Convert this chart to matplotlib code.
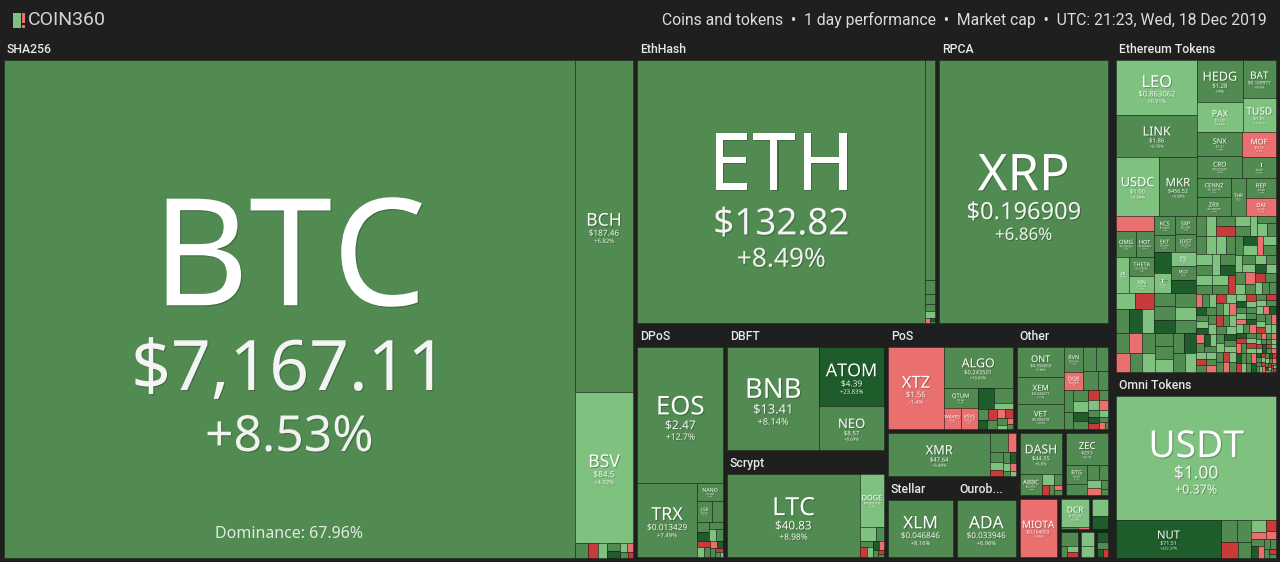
import matplotlib
matplotlib.use("Agg")
import matplotlib.pyplot as plt
from matplotlib.patches import Rectangle
import matplotlib.patheffects as pe

'''
COIN360 style treemap: coins and tokens, 1 day performance, sized by market cap.
Tile sizes are relative market caps read off the picture, colour is the 1 day change.
'''

# ---- data: (symbol, relative market cap, 1 day change %, price) ----
sha256_coins = [("BTC", 2928, 8.53, "$7,167.11"), ("BCH", 201, 6.82, "$187.46"),
                ("BSV", 91, 4.92, "$84.5")]
sha256_small_cap = [2.0, 1.6, 1.3, 1.1, 0.9, 0.7, 0.6, 0.5, 0.3]
sha256_small_chg = [7.2, -6.5, 3.1, 9.0, 25.0, 4.0, -2.0, 12.0, -8.0]
btc_dominance = 67.96

ethhash_coins = [("ETH", 831, 8.49, "$132.82"), ("ETC", 24.5, 7.9, "$4.05")]
ethhash_small_cap = [1.6, 1.1, 0.8, 0.7, 0.3, 0.2, 0.1]
ethhash_small_chg = [9.1, 6.2, 11.0, 2.4, -4.0, 24.0, 5.0]

rpca_coins = [("XRP", 488, 6.86, "$0.196909")]

dpos_coins = [("EOS", 132, 12.7, "$2.47"), ("TRX", 49.7, 7.49, "$0.013429"),
              ("NANO", 5.3, 9.6, "$0.588"), ("LSK", 3.7, 8.1, "$0.302")]
dpos_small_cap = [2.6, 1.5, 1.3, 1.1, 1.0, 1.0, 0.9, 0.8, 0.7, 0.6, 0.5, 0.5, 0.4, 0.3, 0.2]
dpos_small_chg = [7.3, 6.4, 24.6, 8.8, 3.2, 9.5, -7.0, 2.1, 10.3, -3.5, 26.0, 6.0, -12.0, 7.7, 4.4]

dbft_coins = [("BNB", 118, 8.14, "$13.41"), ("ATOM", 48.5, 23.83, "$4.39"),
              ("NEO", 35.5, 8.69, "$8.57")]

scrypt_coins = [("LTC", 143.4, 8.98, "$40.83"), ("DOGE", 16.8, 2.5, "$0.002108")]
scrypt_small_cap = [2.9, 1.5, 1.2, 1.0, 0.8, 0.7, 0.6, 0.5, 0.3, 0.3]
scrypt_small_chg = [3.3, 7.1, 6.2, -9.0, 2.8, 22.0, -3.1, 8.4, -6.0, 5.5]

pos_coins = [("XTZ", 60.6, -1.4, "$1.56"), ("ALGO", 37.7, 10.69, "$0.243501"),
             ("QTUM", 8.8, 7.2, "$1.66"), ("WAVES", 4.9, -2.5, "$0.69"),
             ("VSYS", 4.9, -3.8, "$0.0415")]
pos_small_cap = [4.5, 3.7, 1.6, 1.4, 1.3, 1.2, 1.2, 1.0, 0.9, 0.8, 0.6, 0.5, 0.4]
pos_small_chg = [28.0, 9.4, 3.0, 7.5, -6.0, 24.0, 8.2, -2.2, -9.5, 6.3, 3.9, -4.1, 11.0]

other_coins = [("ONT", 19.3, 7.88, "$0.556659"), ("XEM", 16.7, 7.7, "$0.032677"),
               ("VET", 16.1, 10.5, "$0.006278"), ("RVN", 6.1, 9.2, "$0.0185"),
               ("DGB", 4.5, -3.0, "$0.0058")]
other_small_cap = [4.0, 3.9, 3.8, 2.6, 2.4, 2.3, 2.2, 2.0, 1.8, 1.6, 1.5, 1.4, 1.3, 1.2,
                   1.1, 1.0, 0.9, 0.8, 0.7, 0.5, 0.3]
other_small_chg = [8.8, 6.5, 9.9, 7.1, 12.0, 6.0, 3.5, 8.0, 26.0, 7.4, -5.5, 2.0, 9.0, -2.4,
                   6.6, 30.0, -8.0, 4.2, 7.7, -3.3, 5.9]

cryptonight_coins = [("XMR", 48, 5.88, "$47.64")]
cryptonight_small_cap = [3.6, 1.7, 1.4, 1.1, 0.9, 0.8, 0.7, 0.6, 0.5, 0.4, 0.3]
cryptonight_small_chg = [7.0, -2.0, 9.3, 3.4, -7.5, 6.1, 22.0, 4.0, -3.0, 8.0, 2.2]

stellar_coins = [("XLM", 57, 8.16, "$0.046846")]
ouroboros_coins = [("ADA", 52, 6.96, "$0.033946")]

x11_coins = [("DASH", 19.9, 6.8, "$44.55"), ("ABBC", 5.4, 5.4, "$0.0797")]
x11_small_cap = [1.4, 1.0, 0.8, 0.6, 0.5, 0.4]
x11_small_chg = [3.0, 8.0, -6.0, 9.0, -2.0, 5.0]

equihash_coins = [("ZEC", 15.5, 6.1, "$29.5"), ("BTG", 4.6, 7.4, "$4.83"),
                  ("ZEN", 2.7, 6.9, "$4.96")]
equihash_small_cap = [2.0, 1.6, 1.3, 1.0, 0.8, 0.5]
equihash_small_chg = [7.0, 9.5, 3.1, -4.0, 8.3, 6.0]

tangle_coins = [("MIOTA", 25, -1.85, "$0.164053")]
blake256_coins = [("DCR", 10.5, 2.6, "$17.09")]
blake256_small_cap = [0.6, 0.4]
blake256_small_chg = [6.0, -3.0]
lyra_small_cap = [3.6, 2.7]
lyra_small_chg = [3.2, 26.0]
blake2b_small_cap = [3.2, 1.0, 1.0, 0.8]
blake2b_small_chg = [7.8, 8.6, 2.4, -7.0]
multi_small_cap = [2.5, 2.0]
multi_small_chg = [3.6, 1.9]
keccak_small_cap = [1.5, 1.2, 0.8, 0.6]
keccak_small_chg = [21.0, 6.0, 27.0, -5.0]

erc20_coins = [("LEO", 47.7, 0.91, "$0.863062"), ("LINK", 36.4, 6.76, "$1.86"),
               ("USDC", 27.3, 0.34, "$1.00"), ("MKR", 24.7, 6.58, "$456.52"),
               ("HEDG", 20.5, 9.0, "$1.28"), ("PAX", 14.6, 0.45, "$1.00"),
               ("BAT", 13.6, 8.6, "$0.169977"), ("TUSD", 12.2, 1.05, "$1.01"),
               ("SNX", 11.7, 7.3, "$1.21"), ("CRO", 10.7, 5.9, "$0.022667"),
               ("MOF", 9.3, -3.5, "$4.72"), ("HT", 7.4, 6.2, "$2.69"),
               ("CENNZ", 7.0, 8.5, "$0.120179"), ("ZRX", 7.0, 7.9, "$0.180249"),
               ("THR", 6.5, 6.5, "$0.3"), ("REP", 6.4, 5.7, "$9.48"),
               ("DAI", 6.0, -0.15, "$1.00"), ("OMG", 5.5, 7.2, "$0.509283"),
               ("HOT", 5.2, 6.6, "$0.000403"), ("ZB", 5.0, 3.1, "$0.2398"),
               ("THETA", 4.8, 8.0, "$0.079656"), ("XIN", 4.5, 2.2, "$121.05"),
               ("KCS", 4.3, 6.3, "$0.8806"), ("EKT", 4.1, 6.9, "$0.0591"),
               ("SXP", 3.9, 5.8, "$0.5486"), ("IOST", 3.9, 7.0, "$0.0028"),
               ("FTT", 3.7, 1.6, "$1.86"), ("ENJ", 3.7, 2.9, "$0.0649"),
               ("MCO", 3.5, 7.5, "$2.92")]
erc20_small_cap = [5.8, 3.8, 3.5, 3.3,
                   3.4, 3.3, 3.2, 3.2, 3.1, 3.1, 3.0, 3.0, 2.9, 2.9, 2.8, 2.8, 2.7, 2.7,
                   2.6, 2.6, 2.5, 2.5, 2.5, 2.4, 2.4, 2.4, 2.3, 2.2,
                   2.1, 2.1, 2.0, 2.0, 2.0, 1.9, 1.9, 1.9, 1.8, 1.8, 1.8, 1.7, 1.7, 1.7,
                   1.6, 1.6, 1.6, 1.5, 1.5, 1.5, 1.5, 1.4, 1.4, 1.4, 1.4, 1.3, 1.3, 1.3,
                   1.3, 1.2, 1.2, 1.2, 1.2, 1.2, 1.1, 1.1, 1.1, 1.1, 1.0, 1.0, 1.0, 1.0,
                   1.0, 1.0,
                   0.9, 0.9, 0.9, 0.9, 0.9, 0.9, 0.9, 0.9, 0.85, 0.85, 0.85, 0.85, 0.85,
                   0.85, 0.85, 0.85, 0.8, 0.8, 0.8, 0.8, 0.8, 0.8, 0.8, 0.8, 0.8, 0.8,
                   0.75, 0.75, 0.75, 0.75, 0.75, 0.75, 0.75, 0.75, 0.75, 0.75,
                   0.7, 0.7, 0.7, 0.7, 0.7, 0.7, 0.7, 0.7, 0.7, 0.7,
                   0.65, 0.65, 0.65, 0.65, 0.65, 0.65, 0.65, 0.65, 0.65, 0.65,
                   0.6, 0.6, 0.6, 0.6, 0.6, 0.6, 0.6, 0.6, 0.6, 0.6,
                   0.55, 0.55, 0.55, 0.55, 0.55, 0.55, 0.55, 0.55, 0.55, 0.55,
                   0.5, 0.5, 0.5, 0.5, 0.5, 0.5, 0.5, 0.5, 0.5, 0.5,
                   0.3, 0.3, 0.3, 0.3, 0.3, 0.3, 0.3, 0.3, 0.3, 0.3,
                   0.25, 0.25, 0.25, 0.25, 0.25, 0.25, 0.25, 0.25, 0.25, 0.25,
                   0.2, 0.2, 0.2, 0.2, 0.2, 0.2, 0.2, 0.2, 0.2, 0.2,
                   0.1, 0.1, 0.1, 0.1, 0.1, 0.1, 0.1, 0.1, 0.1, 0.1]
erc20_small_chg = [-2.5, 24.0, 26.0, -8.5,
                   3.0, 7.1, 24.5, 2.2, 6.4, 8.2, 27.0, 7.5, 2.6, 6.0, 9.3, -4.0, 6.8, -3.2,
                   7.7, 1.8, 8.9, 5.6, 2.7, 6.2, 22.0, 7.0, 3.9, 6.6,
                   2.5, 7.3, 3.3, 6.9, -5.0, 1.4, 8.1, 2.0, 7.6, 3.8, 6.1, 23.0, 2.4, 7.9,
                   3.6, 5.8, -7.5, 2.9, 6.7, 1.1, 8.4, 25.0, 3.2, 7.2, 2.6, 6.3, -2.8, 4.1,
                   7.0, 2.3, 9.1, 3.0, 6.5, -4.4, 2.1, 7.4, 3.5, 28.0, 6.0, 2.8, -9.0, 7.8,
                   3.4, 6.9,
                   5.2, -3.0, 7.7, 2.2, 24.0, 6.4, -8.0, 3.1, 6.8, 1.9, -2.1, 8.3, 4.4,
                   27.0, 6.1, 2.7, -6.2, 7.0, 3.3, 9.6, 2.0, -2.9, 6.6, 21.0, 4.7, 7.9,
                   2.4, -10.0, 6.3, 3.8, 8.1, -3.6, 5.9, 1.5, 25.0, 7.2,
                   3.0, 6.7, -5.4, 2.6, 9.2, -1.7, 7.4, 4.1, 30.0, 6.0,
                   -7.7, 2.9, 8.5, 3.6, -2.3, 6.2, 23.0, 1.2, 7.6, -4.8,
                   5.5, 2.1, -9.4, 7.1, 3.9, -1.4, 26.0, 6.9, 2.8, -6.6,
                   8.8, -3.3, 4.6, 1.7, 22.0, -8.8, 6.5, 3.2, -2.6, 7.3,
                   -5.1, 2.3, 28.0, 6.4, -11.0, 3.5, 7.8, -2.0, 5.0, 24.0,
                   6.1, -4.2, 2.5, 9.9, -7.1, 3.7, 25.0, 5.4, -2.2, 7.5,
                   2.0, -6.0, 8.0, 4.0, -3.0, 27.0, 6.0, -9.0, 3.0, 7.0,
                   -12.0, 6.5, 2.9, -4.6, 7.3, 24.0, -8.1, 3.3, 6.0, -2.7,
                   5.1, -7.9, 26.0, 2.2, -3.9, 6.8, -10.5, 4.0, 7.1, -5.6]

omni_coins = [("USDT", 225.5, 0.37, "$1.00"), ("NUT", 44.4, 222.37, "$71.51")]
omni_small_cap = [4.0, 3.3, 3.2, 2.2, 2.0, 1.4, 1.2, 1.0, 1.0, 0.9, 0.8, 0.7, 0.6, 0.5, 0.4, 0.3]
omni_small_chg = [7.5, 6.2, -8.0, 9.1, 2.9, -3.0, -6.5, -2.0, 8.8, 24.0, -2.5, 6.6, 7.2, 5.3, -9.0, 8.0]

header_right = "Coins and tokens  \u2022  1 day performance  \u2022  Market cap  \u2022  UTC: 21:23, Wed, 18 Dec 2019"


def small(caps, chgs):
    return [("", c, d, "") for c, d in zip(caps, chgs)]


GROUPS = {
    "SHA256": sha256_coins + small(sha256_small_cap, sha256_small_chg),
    "EthHash": ethhash_coins + small(ethhash_small_cap, ethhash_small_chg),
    "RPCA": rpca_coins,
    "DPoS": dpos_coins + small(dpos_small_cap, dpos_small_chg),
    "DBFT": dbft_coins,
    "Scrypt": scrypt_coins + small(scrypt_small_cap, scrypt_small_chg),
    "PoS": pos_coins + small(pos_small_cap, pos_small_chg),
    "Other": other_coins + small(other_small_cap, other_small_chg),
    "CryptoNight": cryptonight_coins + small(cryptonight_small_cap, cryptonight_small_chg),
    "Stellar": stellar_coins,
    "Ouroboros": ouroboros_coins,
    "X11": x11_coins + small(x11_small_cap, x11_small_chg),
    "Equihash": equihash_coins + small(equihash_small_cap, equihash_small_chg),
    "Tangle": tangle_coins,
    "Blake256": blake256_coins + small(blake256_small_cap, blake256_small_chg),
    "Lyra2REv2": small(lyra_small_cap, lyra_small_chg),
    "Blake2b": small(blake2b_small_cap, blake2b_small_chg),
    "Multiple": small(multi_small_cap, multi_small_chg),
    "Keccak": small(keccak_small_cap, keccak_small_chg),
    "Ethereum Tokens": erc20_coins + small(erc20_small_cap, erc20_small_chg),
    "Omni Tokens": omni_coins + small(omni_small_cap, omni_small_chg),
}

# how the groups are nested: (direction, gap in px, children)
LAYOUT = ("h", 4, [
    "SHA256",
    ("h", 8, [
        ("v", 4, [
            ("h", 4, ["EthHash", "RPCA"]),
            ("h", 4, [
                "DPoS",
                ("v", 4, ["DBFT", "Scrypt"]),
                ("v", 4, [
                    ("h", 4, ["PoS", "Other"]),
                    ("h", 4, [
                        ("v", 4, ["CryptoNight", ("h", 4, ["Stellar", "Ouroboros"])]),
                        ("v", 4, [
                            ("h", 4, ["X11", "Equihash"]),
                            ("h", 4, ["Tangle",
                                      ("v", 3, [("h", 3, ["Blake256", "Lyra2REv2"]),
                                                ("h", 3, ["Blake2b", "Multiple", "Keccak"])])]),
                        ]),
                    ]),
                ]),
            ]),
        ]),
        ("v", 4, ["Ethereum Tokens", "Omni Tokens"]),
    ]),
])

BG = "#1e1f1e"
HEADER = 20
TILE_FONT = ["Noto Sans", "DejaVu Sans"]
UI_FONT = ["Roboto", "DejaVu Sans"]
PX = 0.72  # points per pixel at dpi 100


def tile_color(chg):
    if chg >= 20:
        return "#1f5c2c"
    if chg >= 5:
        return "#528b51"
    if chg >= 0:
        return "#7fc17f"
    if chg > -5:
        return "#e9706f"
    return "#c93a3b"


def binary_layout(items, x0, y0, x1, y1):
    """d3 style binary treemap of items already sorted by size."""
    sums = [0.0]
    for it in items:
        sums.append(sums[-1] + it[1])
    out = []

    def part(i, j, value, x0, y0, x1, y1):
        if i >= j - 1:
            out.append((items[i], x0, y0, x1, y1))
            return
        offset = sums[i]
        target = value / 2 + offset
        k, hi = i + 1, j - 1
        while k < hi:
            mid = (k + hi) // 2
            if sums[mid] < target:
                k = mid + 1
            else:
                hi = mid
        if (target - sums[k - 1]) < (sums[k] - target) and i + 1 < k:
            k -= 1
        left = sums[k] - offset
        right = value - left
        if (x1 - x0) > (y1 - y0) * 1.02:
            xk = (x0 * right + x1 * left) / value
            part(i, k, left, x0, y0, xk, y1)
            part(k, j, right, xk, y0, x1, y1)
        else:
            yk = (y0 * right + y1 * left) / value
            part(i, k, left, x0, y0, x1, yk)
            part(k, j, right, x0, yk, x1, y1)

    part(0, len(items), sums[-1], x0, y0, x1, y1)
    return out


def node_weight(node):
    if isinstance(node, str):
        return sum(c[1] for c in GROUPS[node])
    return sum(node_weight(ch) for ch in node[2])


def draw_tile(ax, item, x0, y0, x1, y1):
    sym, cap, chg, price = item
    w, h = x1 - x0, y1 - y0
    ax.add_patch(Rectangle((x0, y0), w, h, facecolor=tile_color(chg),
                           edgecolor=(0, 0, 0, 0.3), linewidth=0.7))
    m = min(w, h)
    if not sym or m < 13:
        return
    fs = min(0.3 * m, 0.85 * w / (0.62 * len(sym)))
    s = fs / 0.3
    cx, cy = (x0 + x1) / 2, (y0 + y1) / 2
    shadow = [pe.SimplePatchShadow(offset=(0.8, -0.8), shadow_rgbFace="k", alpha=0.22), pe.Normal()]
    ax.text(cx, cy - 0.115 * s + 0.36 * fs, sym, ha="center", va="baseline",
            fontsize=fs * PX, color="white", family=TILE_FONT, path_effects=shadow)
    fp = min(0.14 * s, 0.9 * w / (0.56 * len(price)))
    ax.text(cx, cy + 0.113 * s + 0.36 * fp, price, ha="center", va="baseline",
            fontsize=fp * PX, color="#f4f4f4", family=TILE_FONT, path_effects=shadow)
    ctxt = "%+g%%" % chg
    fc = min(0.1 * s, 0.9 * w / (0.56 * len(ctxt)))
    ax.text(cx, cy + 0.25 * s + 0.36 * fc, ctxt, ha="center", va="baseline",
            fontsize=fc * PX, color="#eef3ee", family=TILE_FONT, path_effects=shadow)


def draw_group(ax, name, x0, y0, x1, y1, renderer):
    w, h = x1 - x0, y1 - y0
    if h >= 70 and w >= 55:
        t = ax.text(x0 + 2.5, y0 + 9.5, name, ha="left", va="center", fontsize=8.8,
                    color="#e8e8e8", family=UI_FONT, fontweight="medium")
        label = name
        while t.get_window_extent(renderer).width > w - 12 and len(label) > 2:
            label = label[:-1]
            t.set_text(label + "...")
        y0 += HEADER
    items = sorted(GROUPS[name], key=lambda c: -c[1])
    for item, a, b, c, d in binary_layout(items, x0, y0, x1, y1):
        draw_tile(ax, item, a, b, c, d)
        if item[0] == "BTC":
            ax.text((a + c) / 2, d - 23, "Dominance: %.2f%%" % btc_dominance, ha="center",
                    va="center", fontsize=11.5, color="#e2eae2", family=TILE_FONT)


def place(ax, node, x0, y0, x1, y1, renderer):
    if isinstance(node, str):
        draw_group(ax, node, x0, y0, x1, y1, renderer)
        return
    orient, gap, children = node
    ws = [node_weight(ch) for ch in children]
    total = sum(ws)
    length = (x1 - x0) if orient == "h" else (y1 - y0)
    avail = length - gap * (len(children) - 1)
    pos = x0 if orient == "h" else y0
    for ch, wt in zip(children, ws):
        size = avail * wt / total
        if orient == "h":
            place(ax, ch, pos, y0, pos + size, y1, renderer)
        else:
            place(ax, ch, x0, pos, x1, pos + size, renderer)
        pos += size + gap


def main():
    fig = plt.figure(figsize=(12.8, 5.62), dpi=100, facecolor=BG)
    ax = fig.add_axes([0, 0, 1, 1])
    ax.set_facecolor(BG)
    ax.set_xlim(0, 1280)
    ax.set_ylim(562, 0)
    ax.axis("off")
    renderer = fig.canvas.get_renderer()

    # header: logo and description
    ax.add_patch(Rectangle((13, 12.5), 8, 15, facecolor="#7fc17f", edgecolor="none"))
    ax.add_patch(Rectangle((22, 12.5), 3, 10, facecolor="#e9706f", edgecolor="none"))
    ax.add_patch(Rectangle((22, 24.5), 3, 3, facecolor="#e9706f", edgecolor="none"))
    ax.text(27.5, 20, "COIN360", ha="left", va="center", fontsize=14, color="#d4d4d4",
            family=UI_FONT)
    ax.text(1267, 19.5, header_right, ha="right", va="center", fontsize=11.3,
            color="#dcdcdc", family=UI_FONT)

    place(ax, LAYOUT, 4, 40, 1276, 557.5, renderer)

    fig.savefig("out.png", dpi=100, facecolor=BG)
    plt.close(fig)


if __name__ == "__main__":
    main()
